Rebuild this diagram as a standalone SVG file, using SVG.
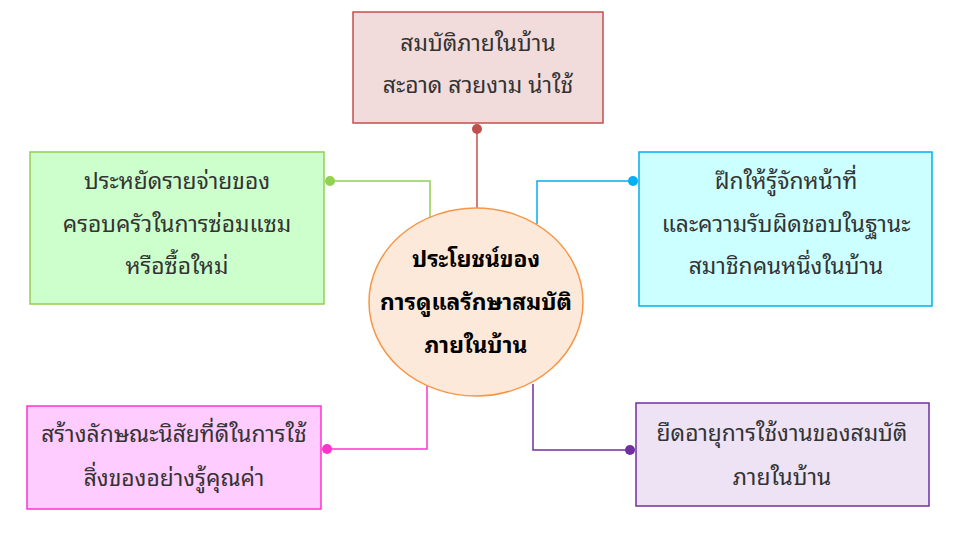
<svg xmlns="http://www.w3.org/2000/svg" width="961" height="536" viewBox="0 0 961 536">
<style>
text{font-family:"Noto Sans Thai Looped","Tahoma","Noto Sans Thai","DejaVu Sans","Noto Sans",sans-serif;font-size:22.8px;fill:#333;text-anchor:middle;dominant-baseline:central}
.c text{fill:#000;font-weight:bold}
.ln{fill:none;stroke-width:1.5}
</style>
<rect width="961" height="536" fill="#fff"/>
<g id="connectors">
<path class="ln" stroke="#c0504d" d="M477,129 V208"/><circle cx="477" cy="129" r="5" fill="#c0504d"/>
<path class="ln" stroke="#92d050" d="M330,181 H430 V218"/><circle cx="330" cy="181" r="5" fill="#92d050"/>
<path class="ln" stroke="#00b0f0" d="M633,181 H537 V224"/><circle cx="633" cy="181" r="5" fill="#00b0f0"/>
<path class="ln" stroke="#ff33cc" d="M327,449 H427 V384"/><circle cx="327" cy="449" r="5" fill="#ff33cc"/>
<path class="ln" stroke="#7030a0" d="M630,450 H533 V384"/><circle cx="630" cy="450" r="5" fill="#7030a0"/>
</g>
<g id="n-top"><rect x="353" y="12" width="250" height="111" fill="#f2dcdb" stroke="#c0504d" stroke-width="1.5"/>
<text x="478" y="41">สมบัติภายในบ้าน</text><text x="478" y="83">สะอาด สวยงาม น่าใช้</text></g>
<g id="n-green"><rect x="30" y="152" width="294" height="152" fill="#ccffcc" stroke="#92d050" stroke-width="1.5"/>
<text x="177" y="179">ประหยัดรายจ่ายของ</text><text x="177" y="222">ครอบครัวในการซ่อมแซม</text><text x="177" y="264">หรือซื้อใหม่</text></g>
<g id="n-cyan"><rect x="639" y="152" width="293" height="154" fill="#ccffff" stroke="#00b0f0" stroke-width="1.5"/>
<text x="786" y="179">ฝึกให้รู้จักหน้าที่</text><text x="786" y="222">และความรับผิดชอบในฐานะ</text><text x="786" y="264">สมาชิกคนหนึ่งในบ้าน</text></g>
<g id="n-pink"><rect x="27" y="406" width="294" height="103" fill="#ffccff" stroke="#ff33cc" stroke-width="1.5"/>
<text x="174" y="432">สร้างลักษณะนิสัยที่ดีในการใช้</text><text x="174" y="476">สิ่งของอย่างรู้คุณค่า</text></g>
<g id="n-purple"><rect x="636" y="403" width="293" height="103" fill="#ede3f5" stroke="#7030a0" stroke-width="1.5"/>
<text x="782" y="431">ยืดอายุการใช้งานของสมบัติ</text><text x="782" y="475">ภายในบ้าน</text></g>
<g id="n-center" class="c"><ellipse cx="476" cy="302" rx="107" ry="94" fill="#fde9d9" stroke="#f79646" stroke-width="1.5"/>
<text x="476" y="257">ประโยชน์ของ</text><text x="476" y="300">การดูแลรักษาสมบัติ</text><text x="476" y="343">ภายในบ้าน</text></g>
</svg>
